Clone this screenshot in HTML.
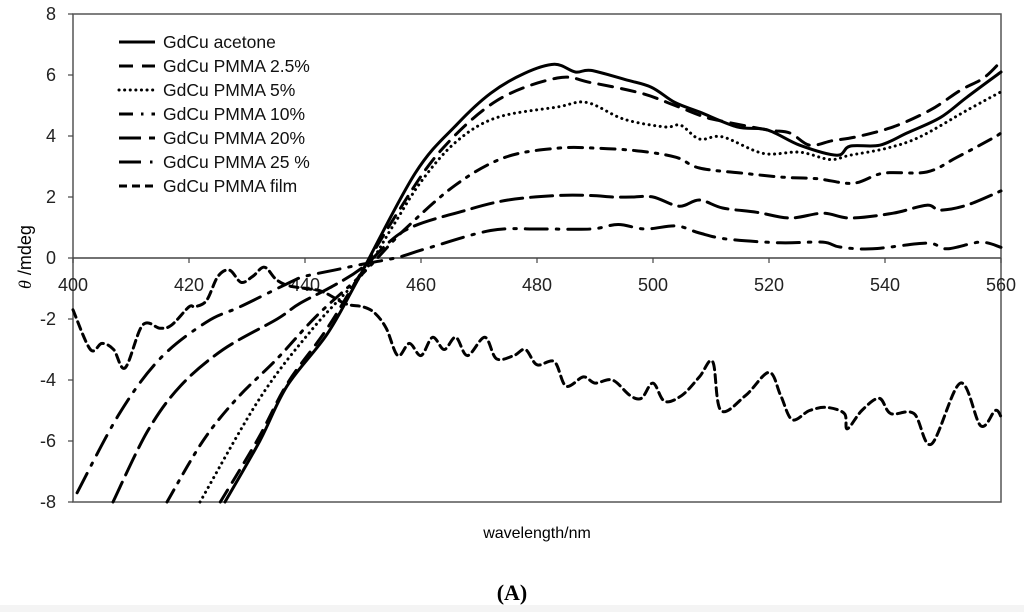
<!DOCTYPE html>
<html><head><meta charset="utf-8"><style>
html,body{margin:0;padding:0;background:#fff;}
svg{display:block;}
text{font-family:"Liberation Sans",Arial,sans-serif;}
</style></head><body>
<svg id="chart" width="1024" height="612" viewBox="0 0 1024 612">
<rect x="0" y="605" width="1024" height="7" fill="#f4f4f4"/>
<g id="axes"></g>
<g id="series"></g>
<g id="legend"></g>
<text x="31" y="257" transform="rotate(-90 31 257)" text-anchor="middle" font-size="18"><tspan font-style="italic" font-family="Liberation Serif,serif">θ</tspan> /mdeg</text>
<text x="537" y="538" text-anchor="middle" font-size="16">wavelength/nm</text>
<text x="512" y="600" text-anchor="middle" font-size="22" font-weight="bold" style="font-family:'Liberation Serif',serif">(A)</text>
</svg>
<script>
const xTicks=[400,420,440,460,480,500,520,540,560];
const yTicks=[8,6,4,2,0,-2,-4,-6,-8];
const seriesNames=["GdCu acetone","GdCu PMMA 2.5%","GdCu PMMA 5%","GdCu PMMA 10%","GdCu PMMA 20%","GdCu PMMA 25 %","GdCu PMMA film"];
const acetoneX=[426.2,432.2,436.9,443.8,449,459,466.3,472,477.8,483,486.6,489.3,495.2,499.7,503.8,508.1,514.5,519.7,525.3,531.7,534,539.1,543.8,549.5,554.1,560];
const acetoneY=[-8,-6,-4.2,-2.5,-0.75,2.78,4.4,5.4,6.05,6.35,6.1,6.15,5.85,5.6,5.1,4.78,4.3,4.2,3.7,3.37,3.67,3.7,4.1,4.6,5.27,6.1];
const pmma25X=[425.4,432,437,443.5,449,456,463.3,473,483.5,489.3,498,503.8,508.5,511.6,519.7,523.6,527,531,535,541.4,547.8,553,557,560];
const pmma25Y=[-8,-5.9,-4.1,-2.4,-0.7,1.5,3.5,5.15,5.9,5.75,5.4,5.0,4.65,4.5,4.2,4.1,3.7,3.85,3.97,4.3,4.85,5.5,5.9,6.45];
const pmma5X=[421.9,432.2,441.4,450,455,460,466,473,483.5,488.6,495,502,504.8,508,512,519,525.3,530.5,534,540.3,546,554,560];
const pmma5Y=[-8,-4.6,-2.3,-0.5,1.0,2.5,3.8,4.6,4.95,5.1,4.55,4.3,4.35,3.9,3.97,3.43,3.47,3.23,3.37,3.6,3.97,4.83,5.45];
const pmma10X=[416.2,422.4,428.3,435.2,442,450,457,466,474.5,483.5,490.5,498,504,508,515.5,522.4,528.3,534.5,539.7,547.2,552.4,558.6,560];
const pmma10Y=[-8,-6,-4.6,-3.3,-1.9,-0.5,0.9,2.4,3.3,3.6,3.6,3.5,3.3,2.95,2.78,2.65,2.6,2.45,2.78,2.82,3.3,3.93,4.1];
const pmma20X=[406.9,412.8,418.5,425.9,435.2,439,445,450,457.2,467.5,475,483.5,489.3,493,496.4,500,504.5,508,512,517.9,523.6,529.3,534,541.4,547.2,549.5,554.1,560];
const pmma20Y=[-8,-5.7,-4.2,-3.0,-2.0,-1.5,-0.9,-0.3,0.9,1.55,1.9,2.05,2.05,2.0,2.0,2.0,1.7,1.9,1.64,1.5,1.31,1.47,1.31,1.47,1.73,1.57,1.73,2.2];
const pmma25pX=[400.7,408,415,423,428.8,437.4,440,445,450,456,460.8,472,480.7,489.3,494,498.6,504,508,512.8,521.9,529.3,532.2,537.9,547.2,550.7,556.4,560];
const pmma25pY=[-7.7,-5.1,-3.3,-2.1,-1.6,-0.8,-0.6,-0.4,-0.2,0.02,0.3,0.9,0.95,0.95,1.1,0.95,1.05,0.82,0.62,0.5,0.52,0.36,0.3,0.49,0.3,0.52,0.35];
const filmX=[400,403,405,407,409,412,415,417,420,421,423,425,427,429,431,433,435,437,440,443,447,450,452,454,456,458,460,462,464,466,468,471,473,476,478,480,483,485,488,490,493,496,498,500,502,505,508,510.3,511.7,516,520,522,524,527,530,533,533.5,536,539,541,545,548,553,556.5,559,560];
const filmY=[-1.7,-3.0,-2.8,-3.0,-3.6,-2.2,-2.3,-2.2,-1.6,-1.6,-1.4,-0.6,-0.4,-0.8,-0.6,-0.3,-0.7,-0.9,-1.0,-1.1,-1.5,-1.6,-1.8,-2.3,-3.2,-2.8,-3.2,-2.6,-3.0,-2.6,-3.2,-2.6,-3.3,-3.2,-3.0,-3.5,-3.4,-4.2,-3.9,-4.1,-4.0,-4.5,-4.6,-4.1,-4.7,-4.5,-3.9,-3.4,-5.0,-4.5,-3.75,-4.5,-5.3,-5.0,-4.9,-5.1,-5.6,-5.0,-4.6,-5.1,-5.1,-6.1,-4.1,-5.5,-5.0,-5.2];

const L=73,R=1001,T=14,B=502;
const xs=v=>L+(v-400)/(560-400)*(R-L);
const ys=v=>T+(8-v)/16*(B-T);
const NS="http://www.w3.org/2000/svg";
function mk(tag,attrs,parent){const e=document.createElementNS(NS,tag);for(const k in attrs)e.setAttribute(k,attrs[k]);parent.appendChild(e);return e;}
const axes=document.getElementById('axes');
let e=mk('rect',{x:L,y:T,width:R-L,height:B-T,fill:'none',stroke:'#555','stroke-width':1.5},axes);


e=mk('line',{x1:L,x2:R,y1:ys(0),y2:ys(0),stroke:'#444','stroke-width':1.5},axes);


xTicks.forEach(t=>{
 const l=mk('line',{x1:xs(t),x2:xs(t),y1:ys(0),y2:ys(0)+5,stroke:'#444','stroke-width':1.2},axes);
 
 
 const tx=mk('text',{x:xs(t),y:ys(0)+33,'text-anchor':'middle','font-size':18,fill:'#222'},axes);
 tx.textContent=t;
 
 
});
yTicks.forEach(t=>{
 const l=mk('line',{x1:L-5,x2:L,y1:ys(t),y2:ys(t),stroke:'#444','stroke-width':1.2},axes);
 
 
 const tx=mk('text',{x:L-17,y:ys(t)+6,'text-anchor':'end','font-size':18,fill:'#222'},axes);
 tx.textContent=t;
 
 
});
function path(X,Y){
 const p=X.map((x,i)=>[xs(x),ys(Y[i])]);
 let d='M'+p[0][0].toFixed(1)+','+p[0][1].toFixed(1);
 for(let i=0;i<p.length-1;i++){
  const p0=p[Math.max(0,i-1)],p1=p[i],p2=p[i+1],p3=p[Math.min(p.length-1,i+2)];
  const c1=[p1[0]+(p2[0]-p0[0])/6,p1[1]+(p2[1]-p0[1])/6];
  const c2=[p2[0]-(p3[0]-p1[0])/6,p2[1]-(p3[1]-p1[1])/6];
  d+=`C${c1[0].toFixed(1)},${c1[1].toFixed(1)} ${c2[0].toFixed(1)},${c2[1].toFixed(1)} ${p2[0].toFixed(1)},${p2[1].toFixed(1)}`;
 }
 return d;
}
const dashes=["","14,9","2.5,5","14,8,2.5,8","22,8","22,9,2.5,9","8,5"];
const dataX=[acetoneX,pmma25X,pmma5X,pmma10X,pmma20X,pmma25pX,filmX];
const dataY=[acetoneY,pmma25Y,pmma5Y,pmma10Y,pmma20Y,pmma25pY,filmY];
const keys=["acetone","pmma-2-5","pmma-5","pmma-10","pmma-20","pmma-25","pmma-film"];
const sg=document.getElementById('series');
const lg=document.getElementById('legend');
dataX.forEach((X,i)=>{
 const a={d:path(X,dataY[i]),fill:'none',stroke:'#000','stroke-width':3,'stroke-linecap':'round','stroke-linejoin':'round'};
 if(dashes[i])a['stroke-dasharray']=dashes[i];
 if(i===2){a['stroke-width']=3;a['stroke-linecap']='round';a['stroke-dasharray']='0.1,5.5';}
 const p=mk('path',a,sg);
 
 
 const y=42+i*24;
 const la={x1:119,x2:155,y1:y,y2:y,stroke:'#000','stroke-width':3};
 if(dashes[i])la['stroke-dasharray']=dashes[i];
 if(i===2){la['stroke-linecap']='round';la['stroke-dasharray']='0.1,5.5';}
 const ll=mk('line',la,lg);
 
 
 const t=mk('text',{x:163,y:y+6,'font-size':17.5,fill:'#111'},lg);
 t.textContent=seriesNames[i];
 
 
});
</script>
</body></html>
